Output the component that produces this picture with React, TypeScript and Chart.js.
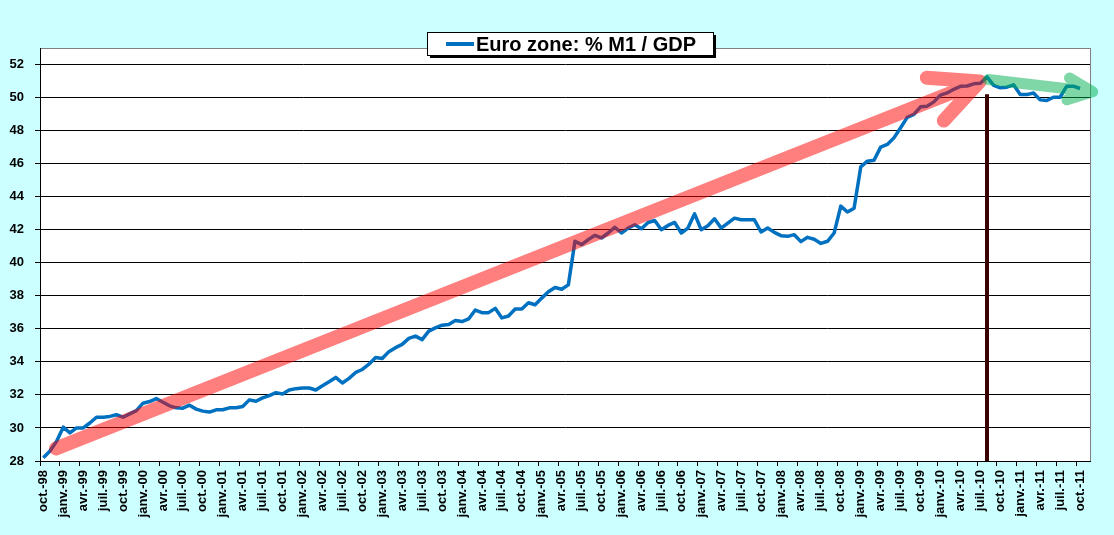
import React, { useEffect, useRef } from 'react';
import { Chart, registerables } from 'chart.js';

Chart.register(...registerables);

const FONT = '"Liberation Sans", Arial, sans-serif';

const monthAbbr = ['janv.', 'févr.', 'mars', 'avr.', 'mai', 'juin', 'juil.', 'août', 'sept.', 'oct.', 'nov.', 'déc.'];

// monthly categories: oct.-98 .. nov.-11
const months: string[] = [];
for (let k = 9; k <= 166; k++) {
  const yy = (98 + Math.floor(k / 12)) % 100;
  months.push(`${monthAbbr[k % 12]}-${String(yy).padStart(2, '0')}`);
}

const seriesLabel = 'Euro zone: % M1 / GDP';

// % M1 / GDP, monthly from oct.-98
const m1ToGdp = [
  28.2, 28.6, 29.2, 30.05, 29.7, 30.0, 30.0, 30.3, 30.65, 30.65, 30.7, 30.8,
  30.65, 30.85, 31.05, 31.5, 31.6, 31.78, 31.56, 31.34, 31.22, 31.2, 31.38, 31.14,
  31.02, 30.96, 31.1, 31.1, 31.22, 31.22, 31.3, 31.7, 31.62, 31.82, 31.96, 32.14,
  32.06, 32.3, 32.38, 32.42, 32.42, 32.3, 32.56, 32.8, 33.06, 32.72, 33.0, 33.36,
  33.54, 33.86, 34.26, 34.2, 34.62, 34.86, 35.06, 35.42, 35.56, 35.35, 35.86, 36.06,
  36.22, 36.26, 36.5, 36.44, 36.6, 37.14, 36.98, 36.98, 37.24, 36.66, 36.78, 37.2,
  37.2, 37.58, 37.46, 37.86, 38.24, 38.5, 38.4, 38.66, 41.3, 41.1, 41.4, 41.66,
  41.5, 41.8, 42.15, 41.8, 42.1, 42.3, 42.06, 42.44, 42.56, 42.0, 42.26, 42.44,
  41.8, 42.1, 42.96, 42.0, 42.24, 42.66, 42.1, 42.4, 42.7, 42.6, 42.6, 42.6,
  41.86, 42.1, 41.84, 41.64, 41.6, 41.7, 41.28, 41.54, 41.42, 41.17, 41.3, 41.8,
  43.43, 43.07, 43.3, 45.8, 46.15, 46.2, 47.0, 47.16, 47.56, 48.17, 48.8, 48.98,
  49.44, 49.48, 49.74, 50.15, 50.28, 50.5, 50.68, 50.7, 50.83, 50.87, 51.25, 50.74,
  50.59, 50.63, 50.77, 50.18, 50.18, 50.28, 49.86, 49.82, 50.02, 50.02, 50.69, 50.69,
  50.55,
];

// vertical marker
const markerMonth = 'août-10';
const markerTop = 50.2;

// trend arrows, [month index, value]
const upTrendFrom = [1.9, 28.76];
const upTrendTo = [140.9, 50.97];
const flatTrendFrom = [142.2, 51.09];
const flatTrendTo = [157.9, 50.35];

const yTicks = { min: 28, max: 53, step: 2 };

const backgroundPlugin = {
  id: 'background',
  beforeDraw(chart: any) {
    const { ctx, chartArea: a } = chart;
    ctx.save();
    ctx.fillStyle = '#CCFFFF';
    ctx.fillRect(0, 0, chart.width, chart.height);
    ctx.fillStyle = '#FFFFFF';
    ctx.fillRect(a.left, a.top, a.right - a.left, a.bottom - a.top);
    ctx.strokeStyle = '#808080';
    ctx.lineWidth = 1;
    ctx.strokeRect(Math.round(a.left) + 0.5, Math.round(a.top) + 0.5, Math.round(a.right - a.left), Math.round(a.bottom - a.top));
    ctx.restore();
  },
};

function drawArrow(ctx: CanvasRenderingContext2D, chart: any, from: number[], to: number[], color: string, width: number, head: number, angle: number) {
  const x = chart.scales.x;
  const y = chart.scales.y;
  const x0 = x.getPixelForValue(from[0]);
  const y0 = y.getPixelForValue(from[1]);
  const x1 = x.getPixelForValue(to[0]);
  const y1 = y.getPixelForValue(to[1]);
  const back = Math.atan2(y0 - y1, x0 - x1);
  const a1 = back + angle;
  const a2 = back - angle;
  ctx.save();
  ctx.strokeStyle = color;
  ctx.lineWidth = width;
  ctx.lineCap = 'round';
  ctx.lineJoin = 'round';
  ctx.beginPath();
  ctx.moveTo(x0, y0);
  ctx.lineTo(x1, y1);
  ctx.moveTo(x1 + head * Math.cos(a1), y1 + head * Math.sin(a1));
  ctx.lineTo(x1, y1);
  ctx.lineTo(x1 + head * Math.cos(a2), y1 + head * Math.sin(a2));
  ctx.stroke();
  ctx.restore();
}

const arrowsPlugin = {
  id: 'trendArrows',
  afterDatasetsDraw(chart: any) {
    const ctx = chart.ctx;
    drawArrow(ctx, chart, upTrendFrom, upTrendTo, 'rgba(255, 0, 0, 0.5)', 14, 53, 0.45);
    drawArrow(ctx, chart, flatTrendFrom, flatTrendTo, 'rgba(0, 176, 80, 0.5)', 11, 27, 0.42);
  },
};

const legendPlugin = {
  id: 'legendBox',
  afterDraw(chart: any) {
    const ctx = chart.ctx;
    const ds = chart.data.datasets.find((d: any) => d.label === seriesLabel);
    ctx.save();
    ctx.font = `bold 20px ${FONT}`;
    const tw = ctx.measureText(ds.label).width;
    const padL = 19, sample = 28, gap = 2, padR = 17;
    const w = padL + sample + gap + tw + padR;
    const h = 23;
    const left = Math.round(570 - w / 2);
    const top = 32;
    ctx.fillStyle = '#000';
    ctx.fillRect(left + 3, top + 3, w, h);
    ctx.fillStyle = '#fff';
    ctx.fillRect(left, top, w, h);
    ctx.strokeStyle = '#000';
    ctx.lineWidth = 1;
    ctx.strokeRect(left + 0.5, top + 0.5, w, h);
    const cy = top + h / 2 + 0.5;
    ctx.strokeStyle = ds.borderColor;
    ctx.lineWidth = 4;
    ctx.beginPath();
    ctx.moveTo(left + padL, cy);
    ctx.lineTo(left + padL + sample, cy);
    ctx.stroke();
    ctx.fillStyle = '#000';
    ctx.textBaseline = 'middle';
    ctx.textAlign = 'left';
    ctx.fillText(ds.label, left + padL + sample + gap, cy + 1);
    ctx.restore();
  },
};

const App: React.FC = () => {
  const canvasRef = useRef<HTMLCanvasElement>(null);
  const chartRef = useRef<Chart | null>(null);

  useEffect(() => {
    if (!canvasRef.current) return;
    if (chartRef.current) chartRef.current.destroy();

    chartRef.current = new Chart(canvasRef.current, {
      type: 'line',
      data: {
        labels: months,
        datasets: [
          {
            label: seriesLabel,
            data: m1ToGdp,
            borderColor: '#0070C0',
            borderWidth: 3.5,
            borderJoinStyle: 'round',
            pointRadius: 0,
            tension: 0,
            order: 1,
          },
          {
            label: 'marker',
            data: [
              { x: markerMonth, y: markerTop },
              { x: markerMonth, y: yTicks.min },
            ],
            borderColor: '#3A0000',
            borderWidth: 4,
            pointRadius: 0,
            order: 2,
          } as any,
        ],
      },
      options: {
        animation: false,
        responsive: false,
        devicePixelRatio: 1,
        layout: { padding: { top: 48, right: 24, left: 0, bottom: 0 } },
        plugins: {
          legend: { display: false },
          tooltip: { enabled: false },
        },
        scales: {
          x: {
            type: 'category',
            offset: true,
            grid: {
              offset: true,
              drawOnChartArea: false,
              drawTicks: true,
              tickLength: 5,
              lineWidth: 1,
              color: (c: any) => (c.index % 3 === 0 ? '#000' : 'rgba(0,0,0,0)'),
            },
            border: { color: '#000', width: 1 },
            ticks: {
              autoSkip: false,
              minRotation: 90,
              maxRotation: 90,
              padding: 4,
              color: '#000',
              font: { family: FONT, size: 13, weight: 'bold' },
              callback: (_v: any, i: number) => (i % 3 === 0 ? months[i] : ''),
            },
            afterFit: (s: any) => {
              s.height = 74;
            },
          },
          y: {
            min: yTicks.min,
            max: yTicks.max,
            grid: { color: '#000', lineWidth: 1, tickLength: 5 },
            border: { color: '#000', width: 1 },
            ticks: {
              stepSize: yTicks.step,
              includeBounds: false,
              padding: 11,
              color: '#000',
              font: { family: FONT, size: 13, weight: 'bold' },
            },
            afterFit: (s: any) => {
              s.width = 40;
            },
          },
        },
      },
      plugins: [backgroundPlugin, arrowsPlugin, legendPlugin],
    });

    return () => {
      if (chartRef.current) {
        chartRef.current.destroy();
        chartRef.current = null;
      }
    };
  }, []);

  return (
    <div style={{ position: 'absolute', left: 0, top: 0, width: 1114, height: 535 }}>
      <canvas ref={canvasRef} width={1114} height={535} style={{ display: 'block' }} />
    </div>
  );
};

export default App;
